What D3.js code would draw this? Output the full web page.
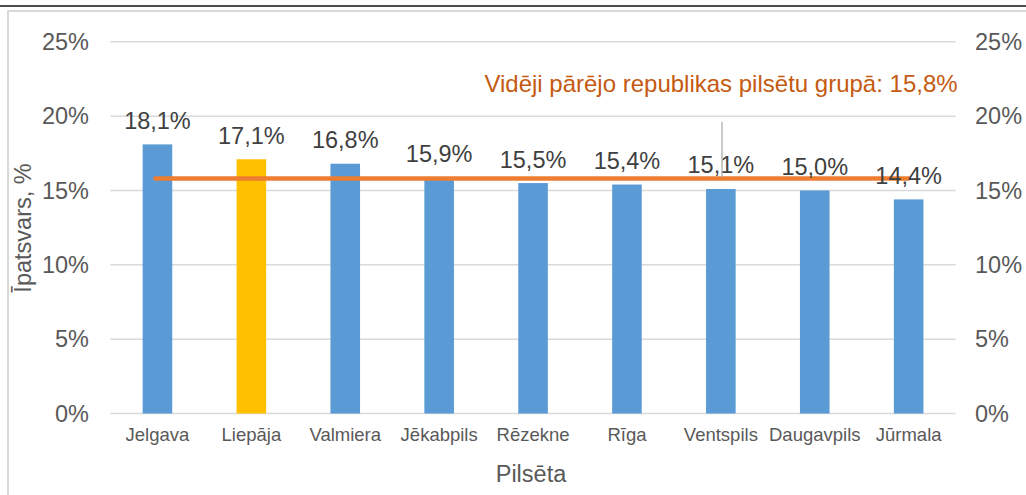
<!DOCTYPE html>
<html><head><meta charset="utf-8">
<script src="https://cdn.jsdelivr.net/npm/d3@7"></script>
<style>body{margin:0;background:#fff}svg{display:block;font-family:"Liberation Sans",Arial,sans-serif}</style>
</head><body><svg id="c" width="1026" height="495"></svg>
<script>
const categories = ["Jelgava","Liepāja","Valmiera","Jēkabpils","Rēzekne","Rīga","Ventspils","Daugavpils","Jūrmala"];
const values = [18.1,17.1,16.8,15.9,15.5,15.4,15.1,15.0,14.4];
const labels = ["18,1%","17,1%","16,8%","15,9%","15,5%","15,4%","15,1%","15,0%","14,4%"];
const highlight = ["Liepāja"];
const averageValue = 15.8;
const averageLabel = "Vidēji pārējo republikas pilsētu grupā: 15,8%";
const yTicks = [0,5,10,15,20,25];
const yTickLabels = ["0%","5%","10%","15%","20%","25%"];
const xTitle = "Pilsēta";
const yTitle = "Īpatsvars, %";

const svg = d3.select("#c");
const x = d3.scaleBand().domain(categories).range([110.5,955.6]).paddingInner(0.685).paddingOuter(0.3425);
const y = d3.scaleLinear().domain([0,25]).range([413.5,41.8]);

// frame
svg.append("line").attr("x1",0).attr("x2",1026).attr("y1",6).attr("y2",6).attr("stroke","#4d4d4d").attr("stroke-width",2);
svg.append("rect").attr("x",8).attr("y",11).attr("width",1040).attr("height",500).attr("fill","none").attr("stroke","#d9d9d9").attr("stroke-width",2);

// gridlines
svg.append("g").selectAll("line").data(yTicks).join("line")
  .attr("x1",110.5).attr("x2",955.6).attr("y1",d=>y(d)).attr("y2",d=>y(d))
  .attr("stroke","#d9d9d9").attr("stroke-width",1.5);

// axes (labels only)
const left = svg.append("g").attr("transform","translate(89,0)")
  .call(d3.axisLeft(y).tickValues(yTicks).tickFormat((d,i)=>yTickLabels[i]).tickSize(0).tickPadding(0));
const right = svg.append("g").attr("transform","translate(975,0)")
  .call(d3.axisRight(y).tickValues(yTicks).tickFormat((d,i)=>yTickLabels[i]).tickSize(0).tickPadding(0));
[left,right].forEach(g=>{
  g.select(".domain").remove();
  g.selectAll("text").attr("font-size",23.5).attr("fill","#595959").attr("font-family","'Liberation Sans',Arial,sans-serif");
});

const bottom = svg.append("g").attr("transform","translate(0,425)")
  .call(d3.axisBottom(x).tickSize(0).tickPadding(0));
bottom.select(".domain").remove();
bottom.selectAll("text").attr("font-size",18.5).attr("fill","#595959").attr("dy","0.71em").attr("y",3).attr("font-family","'Liberation Sans',Arial,sans-serif");

// bars
svg.append("g").selectAll("rect").data(categories).join("rect")
  .attr("x",d=>x(d)).attr("width",x.bandwidth())
  .attr("y",(d,i)=>y(values[i])).attr("height",(d,i)=>y(0)-y(values[i]))
  .attr("fill",d=>highlight.includes(d)?"#ffc000":"#5b9bd5");

// average line
svg.append("line")
  .attr("x1",x(categories[0])+x.bandwidth()/2-2).attr("x2",x(categories[categories.length-1])+x.bandwidth()/2)
  .attr("y1",y(averageValue)).attr("y2",y(averageValue))
  .attr("stroke","#ed7d31").attr("stroke-width",4.5).attr("stroke-linecap","round");

// data labels
svg.append("g").selectAll("text").data(categories).join("text")
  .attr("x",d=>x(d)+x.bandwidth()/2).attr("y",(d,i)=>y(values[i])-15.5)
  .attr("text-anchor","middle").attr("font-size",23.5).attr("fill","#404040")
  .text((d,i)=>labels[i]);

// leader line & annotation
svg.append("line").attr("x1",722).attr("x2",722).attr("y1",122).attr("y2",y(averageValue)-1)
  .attr("stroke","#a6a6a6").attr("stroke-width",1.2);
svg.append("text").attr("x",721).attr("y",92).attr("text-anchor","middle")
  .attr("font-size",24).attr("fill","#c55a11").text(averageLabel);

// titles
svg.append("text").attr("x",531).attr("y",482).attr("text-anchor","middle").attr("font-size",23.5).attr("fill","#595959").text(xTitle);
svg.append("text").attr("transform","translate(31,228) rotate(-90)").attr("text-anchor","middle").attr("font-size",23.5).attr("fill","#595959").text(yTitle);
</script></body></html>
